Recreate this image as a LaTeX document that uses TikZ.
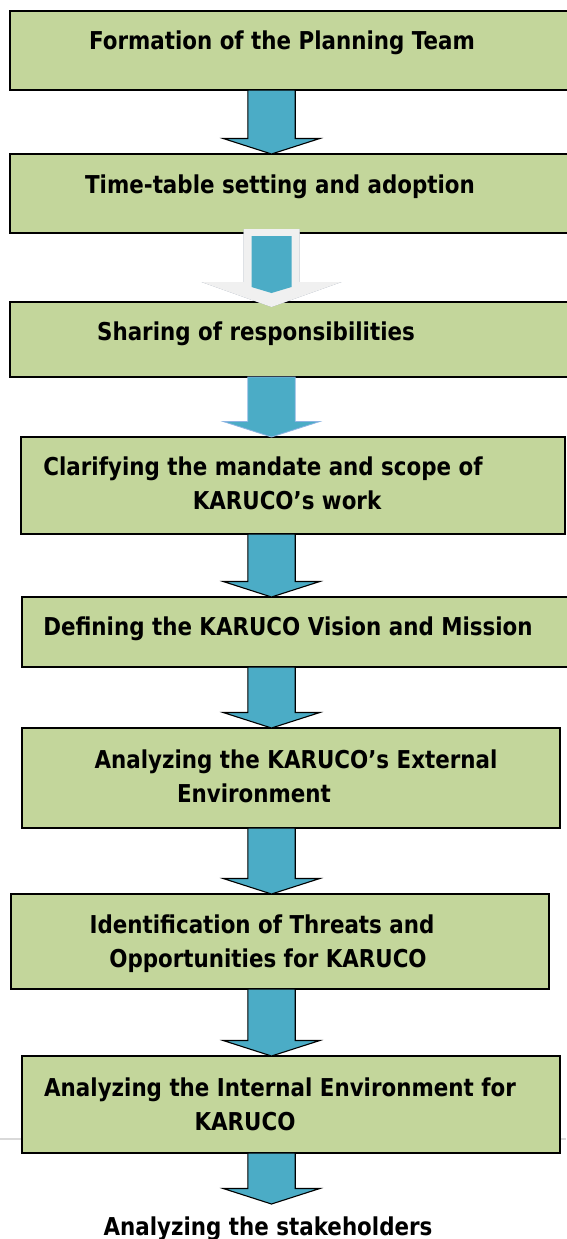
\documentclass[tikz,border=0pt]{standalone}
\usepackage{fontspec}
\setmainfont{DejaVu Sans}[FakeStretch=0.87]
\usetikzlibrary{calc}

\definecolor{boxgreen}{RGB}{195,214,155}
\definecolor{arrowblue}{RGB}{75,172,198}
\definecolor{paleedge}{RGB}{141,180,226}
\definecolor{shadowgrey}{RGB}{138,150,168}
\definecolor{arrowwhite}{RGB}{240,240,240}
\definecolor{rulegrey}{RGB}{217,217,217}

% block arrow from the bottom of one box to the top of the next, on the common axis
\newcommand\blockarrow[3]{%
  \coordinate (at) at (#2 -| axis);
  \coordinate (ap) at (#3 -| axis);
  \draw[#1] ($(at)+(-23.7,0)$) -- ($(at)+(23.7,0)$) -- ($(ap)+(23.7,-15.5)$)
    -- ($(ap)+(48.3,-15.5)$) -- (ap) -- ($(ap)+(-48.3,-15.5)$)
    -- ($(ap)+(-23.7,-15.5)$) -- cycle;
}

\begin{document}
\begin{tikzpicture}[x=1pt,y=-1pt,
  stepbox/.style={draw=black, line width=1.1pt, fill=boxgreen, rectangle,
    inner sep=0pt, outer sep=0pt, anchor=north west},
  steptext/.style={font=\bfseries\fontsize{24.6}{29}\selectfont, inner sep=0pt, anchor=base},
  barrow/.style={fill=arrowblue, draw=black, line width=1.1pt, line join=miter},
  palearrow/.style={fill=arrowblue, draw=paleedge, line width=0.8pt},
]
\useasboundingbox (0,0) rectangle (566,1239);
\fill[white] (0,0) rectangle (566,1239);
\coordinate (axis) at (271.5,0);

% faint rule running behind the last box
\draw[rulegrey, line width=1.5pt] (0,1139) -- (566,1139);

% process boxes
\node[stepbox, minimum width=562, minimum height=79] (b1) at (10,11) {};
\node[stepbox, minimum width=562, minimum height=79] (b2) at (10,154) {};
\node[stepbox, minimum width=562, minimum height=75] (b3) at (10,302) {};
\node[stepbox, minimum width=544, minimum height=97] (b4) at (21,437) {};
\node[stepbox, minimum width=550, minimum height=70] (b5) at (22,597) {};
\node[stepbox, minimum width=538, minimum height=100] (b6) at (22,728) {};
\node[stepbox, minimum width=538, minimum height=95] (b7) at (11,894) {};
\node[stepbox, minimum width=538, minimum height=97] (b8) at (22,1056) {};

% box texts
\node[steptext] (t1) at (282,50) {Formation of the Planning Team};
\node[steptext] (t2) at (280,193) {Time-table setting and adoption};
\node[steptext] (t3) at (256,340) {Sharing of responsibilities};
\node[steptext] (t4a) at (263,475) {Clarifying the mandate and scope of};
\node[steptext] (t4b) at (287,509) {KARUCO’s work};
\node[steptext] (t5) at (288,635) {Defining the KARUCO Vision and Mission};
\node[steptext] (t6a) at (296,768) {Analyzing the KARUCO’s External};
\node[steptext] (t6b) at (254,802) {Environment};
\node[steptext] (t7a) at (262,933) {Identification of Threats and};
\node[steptext] (t7b) at (268,967) {Opportunities for KARUCO};
\node[steptext] (t8a) at (280,1096) {Analyzing the Internal Environment for};
\node[steptext] (t8b) at (245,1130) {KARUCO};
\node[steptext] (t9) at (268,1235) {Analyzing the stakeholders};
\coordinate (end) at (271.5,1204);

% arrows between the steps
\blockarrow{barrow}{b1.south}{b2.north}

% raised white arrow with shadow and blue core
\coordinate (wt) at ($(b2.south -| axis)+(0,-4)$);
\coordinate (wp) at ($(b3.north -| axis)+(0,5)$);
\fill[shadowgrey, shift={(4pt,-5pt)}] ($(wt)+(-28,0)$) -- ($(wt)+(28,0)$) -- ($(wp)+(28,-25)$)
  -- ($(wp)+(70,-25)$) -- (wp) -- ($(wp)+(-70,-25)$) -- ($(wp)+(-28,-25)$) -- cycle;
\fill[arrowwhite] ($(wt)+(-28,0)$) -- ($(wt)+(28,0)$) -- ($(wp)+(28,-25)$)
  -- ($(wp)+(70,-25)$) -- (wp) -- ($(wp)+(-70,-25)$) -- ($(wp)+(-28,-25)$) -- cycle;
\fill[arrowblue] ($(wt)+(-20,7)$) -- ($(wt)+(20,7)$) -- ($(wp)+(20,-20)$)
  -- ($(wp)+(0,-14)$) -- ($(wp)+(-20,-20)$) -- cycle;

\blockarrow{palearrow}{b3.south}{b4.north}
\blockarrow{barrow}{b4.south}{b5.north}
\blockarrow{barrow}{b5.south}{b6.north}
\blockarrow{barrow}{b6.south}{b7.north}
\blockarrow{barrow}{b7.south}{b8.north}
\blockarrow{barrow}{b8.south}{end}
\end{tikzpicture}
\end{document}
